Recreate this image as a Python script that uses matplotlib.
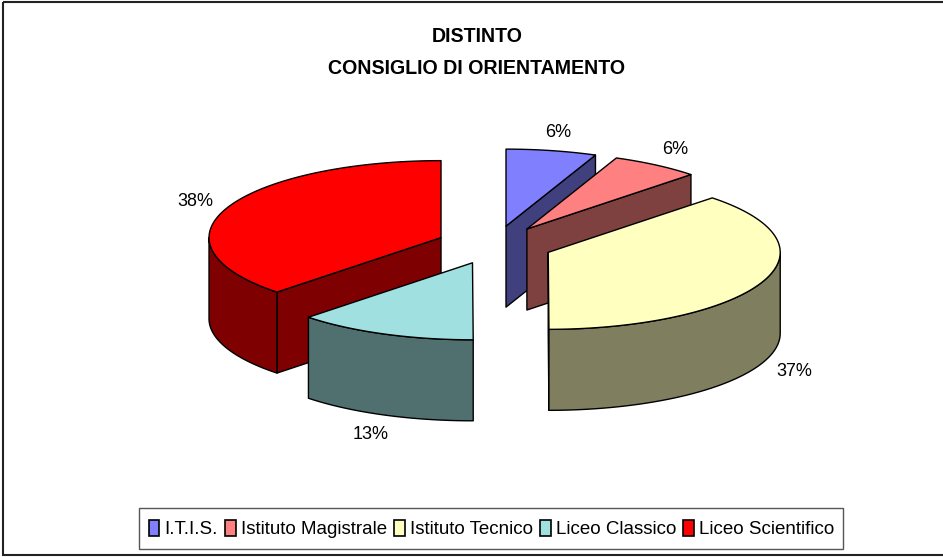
import numpy as np
import matplotlib
matplotlib.use("Agg")
import matplotlib.pyplot as plt
from matplotlib.patches import Polygon, Rectangle

plt.rcParams['font.family'] = ['Liberation Sans', 'DejaVu Sans']

categories = ["I.T.I.S.", "Istituto Magistrale", "Istituto Tecnico", "Liceo Classico", "Liceo Scientifico"]
shares = [6.3, 6.2, 37.45, 12.55, 37.5]
top_colors = ["#8080FF", "#FF8080", "#FFFFC0", "#A0E0E0", "#FF0000"]
side_colors = ["#40407F", "#7F4040", "#7F7F60", "#507070", "#7F0000"]

# pie geometry, in pixels of the picture
CX, CY = 494.6, 245
RX, RY = 232, 77
DEPTH = 81
EXPLODE = 0.25
# back to front, so the nearer slices cover the others
DRAW_ORDER = [0, 1, 4, 3, 2]

fig = plt.figure(figsize=(9.43, 5.57), dpi=100)
ax = fig.add_axes([0, 0, 1, 1])
ax.set_xlim(0, 943)
ax.set_ylim(557, 0)
ax.axis("off")

ax.add_patch(Rectangle((3, 2), 960, 553, fill=False, edgecolor="#222222", linewidth=1.5))


def rim(x0, y0, a1, a2):
    # angles are clockwise from 12 o'clock
    a = np.radians(np.linspace(a1, a2, 80))
    return x0 + RX * np.sin(a), y0 - RY * np.cos(a)


def side(xs, ys, color):
    pts = list(zip(xs, ys)) + list(zip(xs[::-1], ys[::-1] + DEPTH))
    ax.add_patch(Polygon(pts, closed=True, facecolor=color, edgecolor="black", linewidth=1.0, joinstyle="round"))


edges = np.concatenate([[0], np.cumsum(shares)]) * 3.6

for i in DRAW_ORDER:
    a1, a2 = edges[i], edges[i + 1]
    mid = np.radians((a1 + a2) / 2)
    x0 = CX + EXPLODE * RX * np.sin(mid)
    y0 = CY - EXPLODE * RY * np.cos(mid)

    # flat cut faces
    if np.sin(np.radians(a2)) > 0:
        x, y = rim(x0, y0, a2, a2)
        side(np.array([x0, x[0]]), np.array([y0, y[0]]), side_colors[i])
    if np.sin(np.radians(a1)) < 0:
        x, y = rim(x0, y0, a1, a1)
        side(np.array([x0, x[0]]), np.array([y0, y[0]]), side_colors[i])

    # outer wall, only the front half of the rim shows
    lo, hi = max(a1, 90), min(a2, 270)
    if lo < hi:
        x, y = rim(x0, y0, lo, hi)
        side(x, y, side_colors[i])

    # top
    x, y = rim(x0, y0, a1, a2)
    pts = [(x0, y0)] + list(zip(x, y))
    ax.add_patch(Polygon(pts, closed=True, facecolor=top_colors[i], edgecolor="black", linewidth=1.0, joinstyle="round"))

    # percent label
    lx = x0 + (RX + 34) * np.sin(mid)
    ly = y0 - (RY + 20) * np.cos(mid) + 1
    if np.cos(mid) < 0:
        ly += DEPTH
    ax.text(lx, ly, f"{shares[i]:.0f}%", ha="center", va="center", fontsize=13, color="black")

ax.text(477, 36, "DISTINTO", ha="center", va="center", fontsize=14.1, fontweight="bold")
ax.text(477, 68, "CONSIGLIO DI ORIENTAMENTO", ha="center", va="center", fontsize=14.1, fontweight="bold")

# legend box drawn apart, it is taller than the font padding would give
ax.add_patch(Rectangle((139, 508), 704, 41, facecolor="white", edgecolor="#555555", linewidth=1.0))
handles = [Rectangle((0, 0), 1, 1, facecolor=c, edgecolor="black", linewidth=1.2) for c in top_colors]
leg = ax.legend(
    handles, categories, ncol=5, loc="center",
    bbox_to_anchor=(491.5 / 943, 1 - 529 / 557),
    fontsize=13.5, frameon=False, handlelength=0.58, handleheight=1.0,
    handletextpad=0.28, columnspacing=0.36, borderpad=0, borderaxespad=0,
)

fig.savefig("out.png", dpi=100)
plt.close(fig)
